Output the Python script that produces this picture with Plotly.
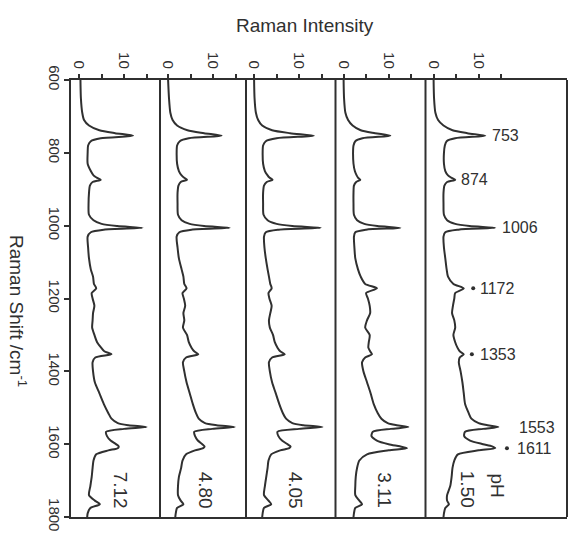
import plotly.graph_objects as go

# ---------------- data ----------------
shift = [600, 650, 690, 710, 725, 738, 746, 753, 760, 768, 780, 800, 830, 850, 862, 868,
         874, 880, 890, 910, 940, 970, 985, 995, 1001, 1006, 1011, 1018, 1030, 1060, 1090,
         1120, 1140, 1160, 1172, 1185, 1200, 1220, 1240, 1260, 1280, 1300, 1320, 1335, 1345,
         1353, 1362, 1375, 1400, 1430, 1460, 1490, 1515, 1530, 1542, 1548, 1553, 1558, 1566,
         1578, 1590, 1600, 1606, 1611, 1617, 1628, 1645, 1665, 1690, 1715, 1740, 1755, 1765,
         1775, 1790, 1800]

int_ph712 = [0.3, 0.4, 0.7, 1.1, 2.2, 4.5, 8.0, 12.0, 4.8, 2.6, 2.0, 1.9, 1.9, 2.6, 3.2, 3.9,
             4.8, 3.0, 2.4, 2.2, 2.1, 2.2, 3.2, 5.0, 8.5, 14.1, 5.5, 2.6, 1.9, 2.0, 2.2,
             2.6, 3.1, 3.3, 3.8, 2.8, 3.0, 3.4, 3.1, 3.0, 2.9, 3.4, 4.0, 4.9, 5.6,
             7.2, 3.6, 3.0, 3.1, 3.5, 4.5, 5.5, 6.5, 7.2, 8.6, 11.0, 15.0, 10.0, 6.0,
             6.2, 7.0, 8.2, 8.8, 8.6, 6.5, 3.8, 3.2, 3.0, 2.8, 2.5, 2.2, 3.5, 4.6,
             2.5, 1.9, 1.8]

int_ph480 = [0.0, 0.2, 0.5, 1.0, 2.0, 4.3, 8.0, 11.9, 4.6, 2.6, 2.0, 1.9, 2.0, 2.4, 3.0, 3.5,
             4.2, 2.8, 2.3, 2.1, 2.1, 2.2, 3.0, 4.8, 8.0, 13.7, 5.2, 2.5, 1.9, 2.1, 2.4,
             3.0, 3.4, 3.6, 4.1, 3.2, 3.5, 3.8, 3.4, 3.6, 3.3, 4.2, 4.6, 5.2, 5.8,
             6.7, 4.0, 3.3, 3.6, 4.1, 4.8, 5.5, 6.2, 6.8, 8.2, 10.8, 14.8, 9.8, 5.8,
             6.0, 6.6, 7.6, 8.1, 7.8, 6.0, 4.0, 3.2, 2.9, 2.4, 2.2, 2.2, 2.8, 3.4,
             2.0, 1.7, 1.6]

int_ph405 = [0.0, 0.1, 0.4, 0.9, 1.8, 4.0, 8.0, 13.3, 5.0, 2.6, 2.0, 1.9, 2.0, 2.4, 3.0, 3.4,
             4.1, 2.8, 2.2, 2.0, 2.0, 2.1, 3.0, 5.0, 8.5, 14.8, 5.5, 2.6, 2.2, 2.3, 2.6,
             3.0, 3.3, 3.6, 3.9, 3.2, 3.4, 3.9, 3.6, 3.3, 3.5, 4.2, 4.6, 5.2, 5.8,
             6.8, 4.0, 3.3, 3.5, 4.0, 4.8, 5.6, 6.4, 7.1, 8.5, 11.0, 15.2, 10.0, 5.2,
             5.4, 6.2, 7.4, 8.1, 7.8, 5.8, 3.8, 3.2, 3.0, 2.7, 2.4, 2.2, 3.2, 3.8,
             2.2, 1.9, 1.8]

int_ph311 = [0.0, 0.1, 0.4, 1.0, 2.0, 3.8, 7.0, 10.4, 4.2, 2.6, 2.2, 2.1, 2.2, 2.5, 2.9, 3.2,
             3.7, 2.8, 2.3, 2.2, 2.2, 2.3, 3.0, 4.6, 7.5, 12.6, 5.0, 2.6, 2.3, 2.4, 2.6,
             3.2, 3.8, 4.8, 7.4, 5.0, 5.4, 5.8, 5.9, 5.2, 4.8, 5.8, 5.6, 5.5, 5.9,
             6.3, 4.8, 4.1, 4.4, 5.2, 6.0, 6.7, 7.6, 8.4, 9.8, 11.8, 14.4, 10.5, 6.5,
             6.2, 7.4, 10.0, 12.5, 14.1, 10.0, 5.2, 3.5, 3.0, 2.7, 2.6, 2.6, 3.5, 4.1,
             2.6, 2.3, 2.2]

int_ph150 = [0.0, 0.1, 0.4, 1.0, 2.2, 4.2, 7.5, 11.5, 4.8, 2.9, 2.5, 2.3, 2.3, 2.6, 3.2, 3.9,
             4.8, 3.0, 2.4, 2.2, 2.2, 2.3, 3.0, 4.8, 8.0, 13.7, 5.5, 2.6, 2.2, 2.3, 2.6,
             2.9, 3.2, 4.4, 6.7, 4.8, 4.6, 4.3, 4.1, 4.6, 4.8, 4.4, 4.8, 5.3, 5.8,
             6.7, 5.8, 5.6, 6.0, 6.4, 6.7, 7.0, 7.8, 8.4, 10.0, 12.0, 14.4, 11.0, 7.0,
             6.8, 8.1, 11.0, 13.0, 13.7, 10.0, 5.4, 4.6, 4.2, 4.0, 3.7, 3.0, 3.0, 3.4,
             2.6, 2.3, 2.2]

ph_values = ["7.12", "4.80", "4.05", "3.11", "1.50"]
spectra = [int_ph712, int_ph480, int_ph405, int_ph311, int_ph150]

peak_labels = [753, 874, 1006, 1172, 1353, 1553, 1611]
marked_peaks = [1172, 1353, 1611]

y_ticks = [600, 800, 1000, 1200, 1400, 1600, 1800]
x_ticks = [0, 5, 10, 15]
x_ticktext = ["0", "", "10", ""]

# ---------------- layout helpers ----------------
W, H = 570, 545
ML, MR, MT, MB = 71, 3, 80, 28
plot_w = W - ML - MR
plot_h = H - MT - MB
px_per_unit = 4.5
x_start = -1.8
divider_px = [0, 89, 175, 264.5, 354.5, plot_w]
domains = [[divider_px[i] / plot_w, divider_px[i + 1] / plot_w] for i in range(5)]

ink = "#303030"
font_family = "Liberation Sans, Arial, sans-serif"

# positions of text inside the panels (panel units)
ph_text_x = [9.1, 8.2, 9.1, 9.1, 7.4]
ph_text_y = 1725
peak_text_x = [12.5, 5.6, 14.8, 9.9, 9.9, 18.5, 18.1]
marker_x = [8.8, 8.5, 16.3]

fig = go.Figure()
for n, (ints, ph) in enumerate(zip(spectra, ph_values)):
    xa = "x" if n == 0 else f"x{n + 1}"
    fig.add_trace(go.Scatter(x=ints, y=shift, mode="lines", xaxis=xa, yaxis="y",
                             line=dict(color=ink, width=2, shape="spline", smoothing=0.7),
                             showlegend=False, name="pH " + ph, hoverinfo="skip"))

fig.add_trace(go.Scatter(x=marker_x, y=marked_peaks, mode="markers", xaxis="x5", yaxis="y",
                         marker=dict(color=ink, size=4), showlegend=False, hoverinfo="skip"))

layout = dict(
    width=W, height=H,
    margin=dict(l=ML, r=MR, t=MT, b=MB),
    paper_bgcolor="white", plot_bgcolor="white",
    font=dict(family=font_family, color=ink),
    showlegend=False,
    yaxis=dict(range=[1800, 600], anchor="x", tickvals=y_ticks, tickangle=90,
               ticks="outside", ticklen=5, tickwidth=1.5, tickcolor=ink,
               ticklabelstandoff=-3,
               showline=True, linewidth=2, linecolor=ink, showgrid=False,
               zeroline=False, tickfont=dict(size=15, color=ink)),
)
for n in range(5):
    key = "xaxis" if n == 0 else f"xaxis{n + 1}"
    width_px = divider_px[n + 1] - divider_px[n]
    layout[key] = dict(domain=domains[n], anchor="y", side="top",
                       range=[x_start, x_start + width_px / px_per_unit],
                       tickvals=x_ticks, ticktext=x_ticktext, tickangle=90,
                       ticks="outside", ticklen=4, tickwidth=1.5, tickcolor=ink,
                       showline=True, mirror=True, linewidth=2, linecolor=ink,
                       showgrid=False, zeroline=False, tickfont=dict(size=15, color=ink))
fig.update_layout(**layout)

shapes = []
for b in divider_px[1:]:
    shapes.append(dict(type="line", xref="paper", yref="paper", x0=b / plot_w, x1=b / plot_w,
                       y0=0, y1=1, line=dict(color=ink, width=2)))
fig.update_layout(shapes=shapes)

ann = []
ann.append(dict(text="Raman Intensity", xref="paper", yref="paper",
                x=(305 - ML) / plot_w, y=(H - MB - 25) / plot_h, showarrow=False,
                xanchor="center", yanchor="middle", font=dict(size=19, color=ink)))
ann.append(dict(text="Raman Shift /cm<sup>-1</sup>", xref="paper", yref="paper",
                x=(18 - ML) / plot_w, y=(H - MB - 311) / plot_h, showarrow=False,
                textangle=90, xanchor="center", yanchor="middle",
                font=dict(size=19, color=ink)))
for n, ph in enumerate(ph_values):
    xa = "x" if n == 0 else f"x{n + 1}"
    ann.append(dict(text=ph, xref=xa, yref="y", x=ph_text_x[n], y=ph_text_y,
                    showarrow=False, textangle=90, xanchor="center", yanchor="middle",
                    font=dict(size=19, color=ink)))
ann.append(dict(text="pH", xref="x5", yref="y", x=14.2, y=1712, showarrow=False,
                textangle=90, xanchor="center", yanchor="middle",
                font=dict(size=19, color=ink)))
for pk, tx in zip(peak_labels, peak_text_x):
    ann.append(dict(text=str(pk), xref="x5", yref="y", x=tx, y=pk, showarrow=False,
                    xanchor="left", yanchor="middle", font=dict(size=16, color=ink)))
fig.update_layout(annotations=ann)

fig.write_html("out.html")
